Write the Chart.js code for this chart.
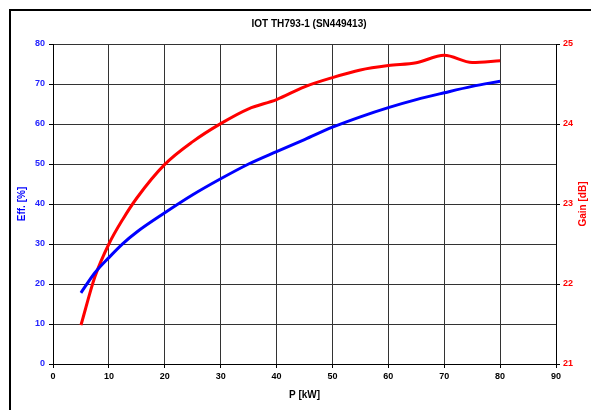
<!DOCTYPE html>
<html>
<head>
<meta charset="utf-8">
<script src="https://cdn.jsdelivr.net/npm/chart.js@4"></script>
<style>
    body { margin: 0; background: #fff; }
    canvas { display: block; }
</style>
</head>
<body>
<canvas id="iotChart" width="591" height="410"></canvas>
<script>
const power = [5, 7.5, 10, 12.5, 15, 20, 25, 30, 35, 40, 45, 50, 55, 60, 65, 70, 75, 80];
const eff = [17.8, 22.8, 26.6, 30.1, 33, 37.8, 42.3, 46.3, 50, 53.1, 56.1, 59.2, 61.8, 64.1, 66.1, 67.8, 69.4, 70.7];
const gain = [21.485, 22.09, 22.5, 22.81, 23.075, 23.495, 23.78, 24.005, 24.19, 24.305, 24.465, 24.58, 24.675, 24.73, 24.765, 24.86, 24.77, 24.79];
const xTicks = [0, 10, 20, 30, 40, 50, 60, 70, 80, 90];
const effTicks = [0, 10, 20, 30, 40, 50, 60, 70, 80];
const gainTicks = [21, 22, 23, 24, 25];

const BLUE = '#0000ff';
const RED = '#ff0000';
const tickFont = { family: 'Liberation Sans, Arial, sans-serif', size: 9, weight: 'bold' };
const titleFont = { family: 'Liberation Sans, Arial, sans-serif', size: 10, weight: 'bold' };

/*----------------------------------------------------------------*/
const frameAndTitles = {
    id: 'frameAndTitles',
    beforeDraw(chart) {
        const { ctx } = chart;
        ctx.save();
        ctx.fillStyle = '#fff';
        ctx.fillRect(0, 0, chart.width, chart.height);
        ctx.strokeStyle = '#000';
        ctx.lineWidth = 2;
        ctx.strokeRect(10, 10, 700, 500);
        ctx.restore();
    },
    afterDraw(chart) {
        const { ctx, chartArea } = chart;
        ctx.save();
        ctx.font = 'bold 10px "Liberation Sans", Arial, sans-serif';
        ctx.fillStyle = '#000';
        ctx.textAlign = 'center';
        ctx.textBaseline = 'middle';
        ctx.fillText('IOT TH793-1 (SN449413)', 309, 24);

        // right axis title reads bottom-to-top like the left one
        ctx.translate(583, (chartArea.top + chartArea.bottom) / 2);
        ctx.rotate(-Math.PI / 2);
        ctx.fillStyle = RED;
        ctx.fillText('Gain [dB]', 0, 0);
        ctx.restore();
    }
};

const points = (xs, ys) => xs.map((x, i) => ({ x: x, y: ys[i] }));

new Chart(document.getElementById('iotChart'), {
    type: 'line',
    data: {
        datasets: [
            {
                label: 'Eff.',
                data: points(power, eff),
                borderColor: BLUE,
                borderWidth: 3,
                pointRadius: 0,
                cubicInterpolationMode: 'monotone',
                yAxisID: 'y'
            },
            {
                label: 'Gain',
                data: points(power, gain),
                borderColor: RED,
                borderWidth: 3,
                pointRadius: 0,
                cubicInterpolationMode: 'monotone',
                yAxisID: 'y1'
            }
        ]
    },
    options: {
        responsive: false,
        animation: false,
        layout: { padding: { top: 44, left: 0, right: 0, bottom: 0 } },
        plugins: {
            legend: { display: false },
            title: { display: false },
            tooltip: { enabled: false }
        },
        scales: {
            x: {
                type: 'linear',
                min: 0,
                max: 90,
                afterBuildTicks: (s) => { s.ticks = xTicks.map(v => ({ value: v })); },
                afterFit: (s) => { s.height = 46; },
                ticks: { color: '#000', font: tickFont, padding: 3, maxRotation: 0 },
                grid: { color: '#333', lineWidth: 1, tickLength: 4, tickColor: '#000' },
                border: { color: '#000', width: 1 },
                title: { display: true, text: 'P [kW]', color: '#000', font: titleFont, padding: { top: 0, bottom: 9 } }
            },
            y: {
                position: 'left',
                min: 0,
                max: 80,
                afterBuildTicks: (s) => { s.ticks = effTicks.map(v => ({ value: v })); },
                afterFit: (s) => { s.width = 53; },
                ticks: { color: '#2222ff', font: tickFont, padding: 4 },
                grid: { color: '#333', lineWidth: 1, tickLength: 4, tickColor: '#000' },
                border: { color: '#000', width: 1 },
                title: { display: true, text: 'Eff. [%]', color: BLUE, font: titleFont, padding: { top: 16, bottom: 0 } }
            },
            y1: {
                position: 'right',
                min: 21,
                max: 25,
                afterBuildTicks: (s) => { s.ticks = gainTicks.map(v => ({ value: v })); },
                afterFit: (s) => { s.width = 35; },
                ticks: { color: RED, font: tickFont, padding: 3 },
                grid: { drawOnChartArea: false, tickLength: 4, tickColor: '#000' },
                border: { color: '#000', width: 1 }
            }
        }
    },
    plugins: [frameAndTitles]
});
</script>
</body>
</html>
